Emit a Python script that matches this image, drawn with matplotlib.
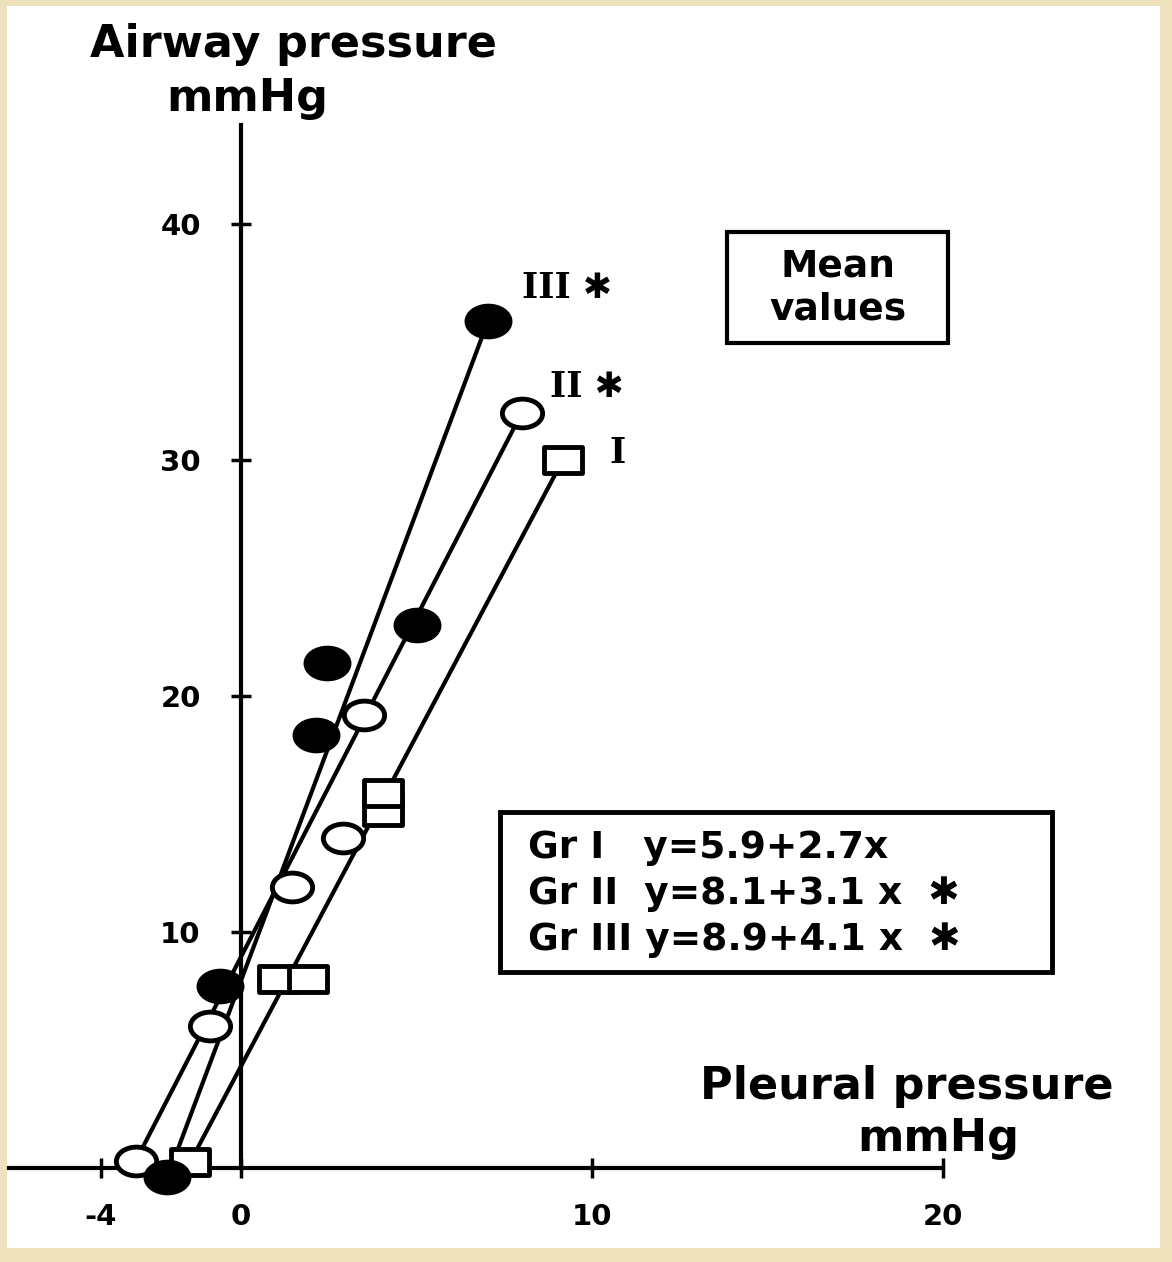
import matplotlib
matplotlib.use("Agg")
import matplotlib.pyplot as plt
import numpy as np
from matplotlib.path import Path
from matplotlib.patches import Rectangle

# puntos (x = presion pleural, y = presion de via aerea)
gr1_x = [-1.45, 1.05, 1.9, 4.05, 4.05, 9.17]     # Gr I, cuadrados abiertos
gr1_y = [0.25, 8.0, 8.0, 15.1, 15.9, 30.0]
gr2_x = [-3.0, -0.88, 1.45, 2.9, 3.5, 8.0]       # Gr II, circulos abiertos
gr2_y = [0.3, 6.0, 11.9, 14.0, 19.2, 32.0]
gr3_x = [-2.1, -0.6, 2.15, 2.45, 5.0, 7.04]      # Gr III, circulos llenos
gr3_y = [-0.4, 7.7, 18.35, 21.4, 23.0, 35.9]

group_labels = ["I", "II ✱", "III ✱"]
equations = ["Gr I   y=5.9+2.7x", "Gr II  y=8.1+3.1 x  ✱", "Gr III y=8.9+4.1 x  ✱"]
xticks = [-4, 0, 10, 20]
yticks = [10, 20, 30, 40]

W, H = 1172, 1262
BEIGE = "#EEE2BC"

def fx(px):
    return px / W

def fy(py):
    return 1 - py / H

fig = plt.figure(figsize=(W / 100, H / 100), dpi=100, facecolor=BEIGE)
fig.patches.append(Rectangle((fx(7), fy(1248)), fx(1160) - fx(7), fy(6) - fy(1248),
                             transform=fig.transFigure, facecolor="white", edgecolor="none", zorder=-5))

ax = fig.add_axes([fx(10), fy(1245), fx(1150), 1145 / H])
ax.set_zorder(1)
ax.patch.set_visible(False)
ax.set_xlim(-6.58, 26.18)
ax.set_ylim(-3.26, 45.25)

# ejes en cero
for s in ["top", "right"]:
    ax.spines[s].set_visible(False)
ax.spines["left"].set_position(("data", 0))
ax.spines["bottom"].set_position(("data", 0))
ax.spines["left"].set_bounds(0, 44.2)
ax.spines["bottom"].set_bounds(-6.6, 20)
ax.spines["left"].set_linewidth(3)
ax.spines["bottom"].set_linewidth(3)

ax.set_xticks(xticks)
ax.set_xticklabels([str(v) for v in xticks])
ax.set_yticks(yticks)
ax.set_yticklabels([str(v) for v in yticks])
ax.tick_params(axis="both", direction="inout", length=14, width=2.5, labelsize=21)
ax.tick_params(axis="y", pad=22)
ax.tick_params(axis="x", pad=18)
for lab in ax.get_xticklabels() + ax.get_yticklabels():
    lab.set_fontweight("bold")

# marcadores elipticos (la figura original esta estirada en horizontal)
circ = Path.unit_circle()
ellipse = Path(circ.vertices * [1.4, 1.0], circ.codes)
rect = Path([(-1.4, -1), (1.4, -1), (1.4, 1), (-1.4, 1), (-1.4, -1)],
            [Path.MOVETO, Path.LINETO, Path.LINETO, Path.LINETO, Path.CLOSEPOLY])

grupos = [
    (gr1_x, gr1_y, rect, "white", 27),
    (gr2_x, gr2_y, ellipse, "white", 29),
    (gr3_x, gr3_y, ellipse, "black", 31),
]

for xs, ys, mk, fc, ms in grupos:
    xs = np.array(xs)
    ys = np.array(ys)
    # recta desde el primer hasta el ultimo punto
    ax.plot([xs[0], xs[-1]], [ys[0], ys[-1]], color="black", lw=3, zorder=3)
    # pequeños trazos que unen los puntos cercanos con la recta
    p0 = ax.transData.transform((xs[0], ys[0]))
    p1 = ax.transData.transform((xs[-1], ys[-1]))
    d = p1 - p0
    for q in ax.transData.transform(np.column_stack([xs, ys])):
        t = np.dot(q - p0, d) / np.dot(d, d)
        foot = p0 + t * d
        dist = np.hypot(*(q - foot))
        if 3 < dist < 30:
            a, b = ax.transData.inverted().transform([q, foot])
            ax.plot([a[0], b[0]], [a[1], b[1]], color="black", lw=3, zorder=3)
    ax.plot(xs, ys, linestyle="none", marker=mk, markersize=ms, markerfacecolor=fc,
            markeredgecolor="black", markeredgewidth=3.5, zorder=4, clip_on=False)

# etiquetas de grupo junto a las rectas
lab_font = dict(fontsize=25, fontweight="bold", family=["DejaVu Serif", "DejaVu Sans"], va="center")
ax.text(10.5, 30.3, group_labels[0], **lab_font)
ax.text(8.8, 33.1, group_labels[1], **lab_font)
ax.text(8.0, 37.3, group_labels[2], **lab_font)

# titulos de ejes
tit = dict(fontsize=32, fontweight="bold", ha="center", va="center")
fig.text(fx(293), fy(45), "Airway pressure", **tit)
fig.text(fx(247), fy(98), "mmHg", **tit)
fig.text(fx(907), fy(1087), "Pleural pressure", **tit)
fig.text(fx(938), fy(1138), "mmHg", **tit)

# recuadro "Mean values"
fig.patches.append(Rectangle((fx(727), fy(343)), fx(948) - fx(727), fy(232) - fy(343),
                             transform=fig.transFigure, facecolor="white", edgecolor="black", lw=3, zorder=5))
fig.text(fx(838), fy(288), "Mean\nvalues", fontsize=27, fontweight="bold", ha="center", va="center",
         linespacing=1.25, zorder=6)

# recuadro de ecuaciones
fig.patches.append(Rectangle((fx(500), fy(972)), fx(1052) - fx(500), fy(812) - fy(972),
                             transform=fig.transFigure, facecolor="white", edgecolor="black", lw=3.5, zorder=5))
for i, eq in enumerate(equations):
    fig.text(fx(528), fy(848 + 46 * i), eq, fontsize=27, fontweight="bold", ha="left", va="center",
             family=["DejaVu Sans"], zorder=6)

fig.savefig("out.png", dpi=100, facecolor=BEIGE)
